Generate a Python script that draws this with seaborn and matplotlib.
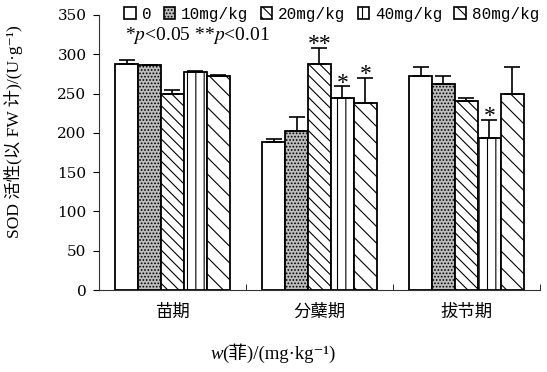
import pandas as pd
import matplotlib
matplotlib.use('Agg')
import matplotlib.pyplot as plt
from matplotlib.patches import Patch
import seaborn as sns

# stages and dose levels
stages = ['苗期', '分蘖期', '拔节期']
doses = ['0', '10mg/kg', '20mg/kg', '40mg/kg', '80mg/kg']

# SOD activity (one list per stage, in dose order)
sod_seedling = [287, 286, 250, 278, 272]
sod_tillering = [188, 202, 288, 244, 238]
sod_jointing = [272, 262, 240, 194, 250]

# upper error bars
err_seedling = [6, 0.5, 4, 0.5, 2]
err_tillering = [4, 18, 20, 15, 32]
err_jointing = [12, 10, 4, 22, 34]

# significance marks
sig_seedling = ['', '', '', '', '']
sig_tillering = ['', '', '**', '*', '*']
sig_jointing = ['', '', '', '*', '']

sns.set_style('ticks')
plt.rcParams['font.family'] = ['Liberation Serif', 'Noto Sans CJK SC', 'DejaVu Sans']
plt.rcParams['mathtext.fontset'] = 'stix'
plt.rcParams['hatch.linewidth'] = 0.8
plt.rcParams['text.color'] = 'black'
plt.rcParams['axes.labelcolor'] = 'black'
plt.rcParams['xtick.color'] = 'black'
plt.rcParams['ytick.color'] = 'black'

rows = []
for stage, vals, errs, sigs in zip(stages,
                                   [sod_seedling, sod_tillering, sod_jointing],
                                   [err_seedling, err_tillering, err_jointing],
                                   [sig_seedling, sig_tillering, sig_jointing]):
    for d, v, e, s in zip(doses, vals, errs, sigs):
        rows.append({'stage': stage, 'dose': d, 'sod': v, 'err': e, 'sig': s})
df = pd.DataFrame(rows)

fig = plt.figure(figsize=(5.47, 3.72), dpi=100)
ax = fig.add_axes([0.181, 0.2204, 0.806, 0.7393])

sns.barplot(data=df, x='stage', y='sod', hue='dose', order=stages, hue_order=doses,
            errorbar=None, width=0.78, palette=['white'] * 5, edgecolor='black',
            linewidth=1.3, legend=False, ax=ax)

faces = ['white', '#bdbdbd', 'white', 'white', 'white']
hatches = [None, '.....', '\\\\\\', '||', '\\\\']

bar_groups = list(ax.containers)
for i, cont in enumerate(bar_groups):
    sub = df[df['dose'] == doses[i]].set_index('stage').loc[stages]
    for bar, e, s in zip(cont, sub['err'], sub['sig']):
        bar.set_facecolor(faces[i])
        if hatches[i]:
            bar.set_hatch(hatches[i])
        x = bar.get_x() + bar.get_width() / 2
        h = bar.get_height()
        ax.errorbar(x, h, yerr=[[0], [e]], fmt='none', ecolor='black',
                    elinewidth=1.2, capsize=6, capthick=1.2)
        if s:
            ax.text(x, h + e - 9, s, ha='center', va='bottom', fontsize=17,
                    family='Liberation Serif', color='black')

ax.set_ylim(0, 350)
ax.set_xlim(-0.5, 2.5)
ax.set_yticks(range(0, 351, 50))
ax.set_xticks(range(len(stages)), stages, family='Noto Sans CJK SC', fontsize=12.5)
ax.set_xticks([0.5, 1.5, 2.5], minor=True)
ax.tick_params(axis='x', which='major', length=0, pad=9)
ax.tick_params(axis='x', which='minor', direction='in', length=4)
ax.tick_params(axis='y', direction='out', length=4, labelsize=11, pad=5)
for lab in ax.get_yticklabels():
    lab.set_family('DejaVu Serif')
sns.despine(ax=ax)
for sp in ['left', 'bottom']:
    ax.spines[sp].set_color('#333333')

ax.set_xlabel('')
ax.set_ylabel('SOD 活性(以 FW 计)/(U·g⁻¹)', fontsize=12.5)
ax.yaxis.set_label_coords(-0.172, 0.575)

# x axis title: italic w followed by the rest
t1 = fig.text(0.384, 0.035, 'w', style='italic', fontsize=13.5, va='baseline')
ax.annotate('(菲)/(mg·kg⁻¹)', xy=(1, 0), xycoords=t1, va='bottom', fontsize=13.5,
            annotation_clip=False)

# legend
handles = [Patch(facecolor=faces[i], edgecolor='black', hatch=hatches[i], linewidth=1.2)
           for i in range(len(doses))]
fig.legend(handles, doses, loc='center left', bbox_to_anchor=(0.213, 0.962),
           ncol=5, frameon=False, borderpad=0, handlelength=0.7, handleheight=0.7,
           handletextpad=0.4, columnspacing=0.75, prop={'family': 'Liberation Mono', 'size': 11.5})

fig.text(0.228, 0.905, r'*$p$<0.05 **$p$<0.01', fontsize=14, va='center')

fig.savefig('out.png', dpi=100)
